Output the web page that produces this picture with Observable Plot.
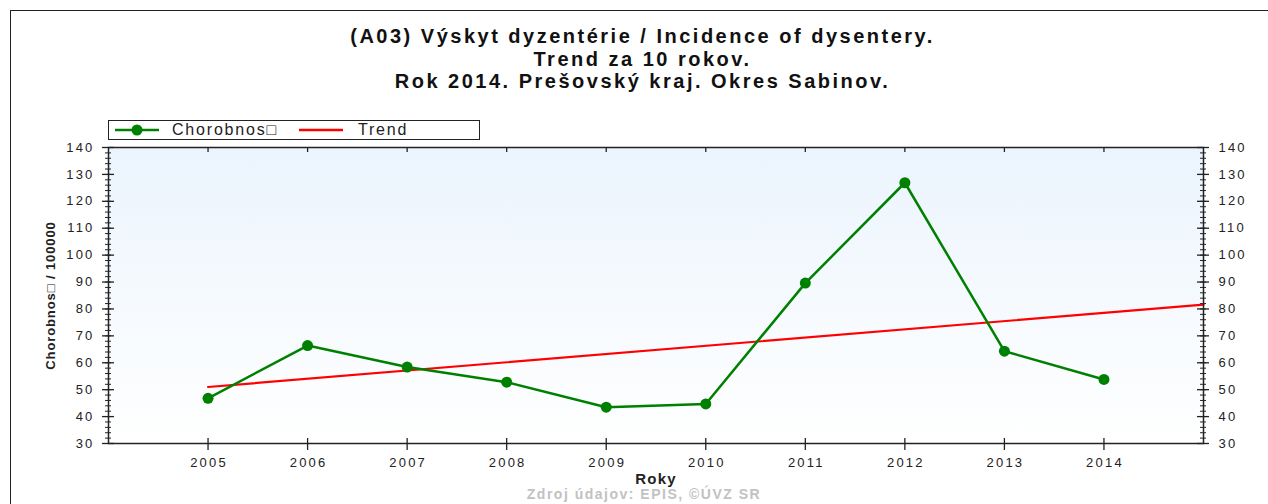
<!DOCTYPE html>
<html>
<head>
<meta charset="utf-8">
<script src="https://cdn.jsdelivr.net/npm/d3@7"></script>
<script src="https://cdn.jsdelivr.net/npm/@observablehq/plot@0.6"></script>
<style>
  body { margin: 0; background: #fff; }
  #wrap { position: relative; width: 1268px; height: 504px; overflow: hidden; background: #fff; font-family: "Liberation Sans", Arial, sans-serif; }
  #frame { position: absolute; left: 10px; top: 10px; width: 1300px; height: 600px; border-left: 1.5px solid #222; border-top: 1.5px solid #222; }
  #title { position: absolute; left: 0; width: 1285px; top: 25px; text-align: center; font-weight: bold; font-size: 20px; line-height: 22.5px; letter-spacing: 2.5px; color: #111; }
  #legend { position: absolute; left: 108px; top: 120px; width: 370px; height: 18px; border: 1px solid #222; font-size: 16px; letter-spacing: 1.8px; color: #222; }
  #legend svg { position: absolute; left: 0; top: 0; }
  #legend span { position: absolute; top: 0px; line-height: 18px; }
  #caption { position: absolute; left: 0; width: 1288px; top: 486px; text-align: center; font-weight: bold; font-size: 14px; letter-spacing: 1.5px; color: #c2c2c2; }
  #chart { position: absolute; left: 0; top: 100px; }
  #chart svg [aria-label="y-axis label"] { font-weight: bold; letter-spacing: 0.9px; }
  #chart svg [aria-label="x-axis label"] { font-weight: bold; font-size: 15px; letter-spacing: 1.2px; }
  #chart svg [aria-label="y-axis tick label"] { letter-spacing: 2.2px; }
  #chart svg [aria-label="x-axis tick label"] { letter-spacing: 2.2px; }
</style>
</head>
<body>
<div id="wrap">
  <div id="frame"></div>
  <div id="title">(A03) Výskyt dyzentérie / Incidence of dysentery.<br>Trend za 10 rokov.<br>Rok 2014. Prešovský kraj. Okres Sabinov.</div>
  <div id="legend">
    <svg width="370" height="18">
      <line x1="6" x2="50" y1="9" y2="9" stroke="#008000" stroke-width="2.5"></line>
      <circle cx="28" cy="9" r="5.5" fill="#008000"></circle>
      <line x1="190" x2="234" y1="9" y2="9" stroke="#ff0000" stroke-width="2.5"></line>
    </svg>
    <span style="left:63px">Chorobnos□</span>
    <span style="left:249px">Trend</span>
  </div>
  <div id="chart"></div>
  <div id="caption">Zdroj údajov: EPIS, ©ÚVZ SR</div>
</div>
<script>
const years = [2005, 2006, 2007, 2008, 2009, 2010, 2011, 2012, 2013, 2014];
const incidence = [46.8, 66.4, 58.4, 52.8, 43.5, 44.7, 89.6, 126.9, 64.3, 53.8];
const trendYears = [2005, 2015];
const trendValues = [51.0, 81.6];
const yMajor = [30, 40, 50, 60, 70, 80, 90, 100, 110, 120, 130, 140];
const yMinor = d3.range(30, 141, 2);

const data = years.map((y, i) => ({year: y, value: incidence[i]}));
const trend = trendYears.map((y, i) => ({year: y, value: trendValues[i]}));

const W = 1268, H = 404;
const mL = 108, mR = 65, mT = 47, mB = 61;
const innerW = W - mL - mR, innerH = H - mT - mB;
const tickColor = "#222";

const chart = Plot.plot({
  width: W,
  height: H,
  marginLeft: mL,
  marginRight: mR,
  marginTop: mT,
  marginBottom: mB,
  style: {fontFamily: "'Liberation Sans', Arial, sans-serif", fontSize: "13px", color: "#222", background: "transparent", overflow: "visible"},
  x: {domain: [2004, 2015]},
  y: {domain: [30, 140]},
  marks: [
    Plot.frame({fill: "url(#bg)", stroke: null}),
    // left axis ticks
    Plot.tickY(yMinor, {y: d => d, stroke: tickColor, strokeWidth: 1, insetLeft: -3, insetRight: innerW - 3}),
    Plot.tickY(yMajor, {y: d => d, stroke: tickColor, strokeWidth: 1.3, insetLeft: -6, insetRight: innerW - 6}),
    // right axis ticks
    Plot.tickY(yMinor, {y: d => d, stroke: tickColor, strokeWidth: 1, insetLeft: innerW - 3, insetRight: -3}),
    Plot.tickY(yMajor, {y: d => d, stroke: tickColor, strokeWidth: 1.3, insetLeft: innerW - 6, insetRight: -6}),
    // x ticks bottom (crossing) and top (inward)
    Plot.tickX(years, {x: d => d, stroke: tickColor, strokeWidth: 1.3, insetTop: innerH - 5, insetBottom: -7}),
    Plot.tickX(years, {x: d => d, stroke: tickColor, strokeWidth: 1.3, insetTop: 0, insetBottom: innerH - 5}),
    Plot.axisY(yMajor, {anchor: "left", tickSize: 0, tickPadding: 14, label: "Chorobnos□ / 100000", labelAnchor: "center", labelArrow: "none", labelOffset: 63, fontSize: 13, fill: "#222"}),
    Plot.axisY(yMajor, {anchor: "right", tickSize: 0, tickPadding: 15, label: null, fontSize: 13, fill: "#222"}),
    Plot.axisX(years, {anchor: "bottom", tickSize: 0, tickPadding: 14, dx: 1, tickFormat: d => String(d), label: "Roky", labelAnchor: "center", labelArrow: "none", labelOffset: 40, fontSize: 13, fill: "#222"}),
    Plot.line(trend, {x: "year", y: "value", stroke: "#ff0000", strokeWidth: 2.2}),
    Plot.line(data, {x: "year", y: "value", stroke: "#008000", strokeWidth: 2.5}),
    Plot.dot(data, {x: "year", y: "value", r: 5.5, fill: "#008000", stroke: null}),
    Plot.frame({stroke: "#222", strokeWidth: 1.5})
  ]
});

const defs = d3.select(chart).insert("defs", ":first-child");
const grad = defs.append("linearGradient").attr("id", "bg").attr("x1", 0).attr("y1", 0).attr("x2", 0).attr("y2", 1);
grad.append("stop").attr("offset", "0%").attr("stop-color", "#ebf4fd");
grad.append("stop").attr("offset", "100%").attr("stop-color", "#ffffff");

document.getElementById("chart").appendChild(chart);
</script>
</body>
</html>
